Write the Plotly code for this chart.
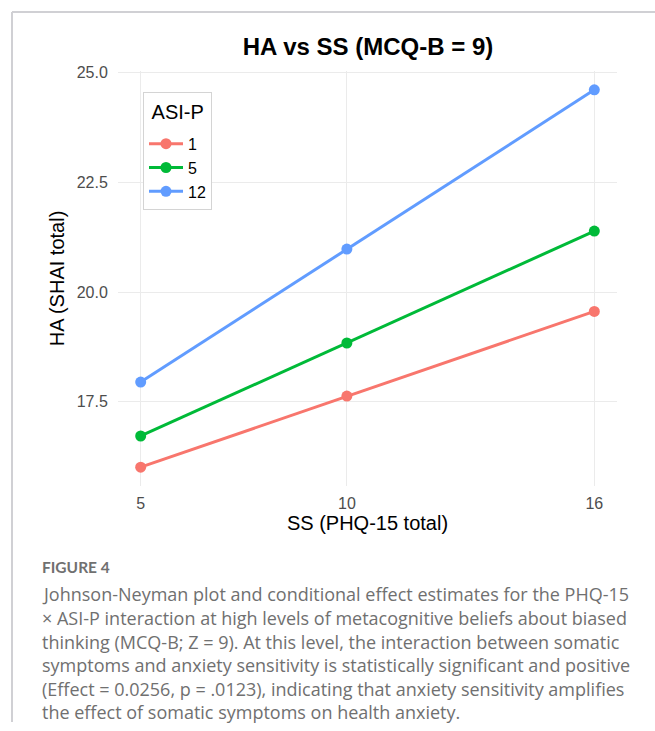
import plotly.graph_objects as go

# ---- data ----
ss_values = [5, 10, 16]
asi_levels = ["1", "5", "12"]
ha_asi1 = [16.01, 17.63, 19.56]
ha_asi5 = [16.72, 18.84, 21.39]
ha_asi12 = [17.95, 20.98, 24.61]
series_colors = ["#F8766D", "#00BA38", "#619CFF"]

x_ticks = [5, 10, 16]
y_ticks = [17.5, 20.0, 22.5, 25.0]
y_tick_labels = ["17.5", "20.0", "22.5", "25.0"]

chart_title = "HA vs SS (MCQ-B = 9)"
x_title = "SS (PHQ-15 total)"
y_title = "HA (SHAI total)"
legend_title = "ASI-P"

caption_head = "FIGURE 4"
caption_lines = [
    "Johnson-Neyman plot and conditional effect estimates for the PHQ-15",
    "\u00d7 ASI-P interaction at high levels of metacognitive beliefs about biased",
    "thinking (MCQ-B; Z = 9). At this level, the interaction between somatic",
    "symptoms and anxiety sensitivity is statistically significant and positive",
    "(Effect = 0.0256, p = .0123), indicating that anxiety sensitivity amplifies",
    "the effect of somatic symptoms on health anxiety.",
]

# ---- layout geometry (pixels) ----
W, H = 655, 731
L, R, T, B = 118, 38, 71, 245
PW = W - L - R
PH = H - T - B


def px_x(px):
    return (px - L) / PW


def px_y(py):
    return (H - B - py) / PH


fig = go.Figure()
for name, ys, col in zip(asi_levels, [ha_asi1, ha_asi5, ha_asi12], series_colors):
    fig.add_trace(go.Scatter(
        x=ss_values, y=ys, name=name, mode="lines+markers",
        line=dict(color=col, width=3),
        marker=dict(color=col, size=11),
        legendgroup=name,
    ))

font_main = "Liberation Sans, Arial, sans-serif"

fig.update_layout(
    width=W, height=H, autosize=False,
    margin=dict(l=L, r=R, t=T, b=B, pad=0),
    paper_bgcolor="white", plot_bgcolor="white",
    font=dict(family=font_main, color="#000000"),
    title=dict(text="<b>" + chart_title + "</b>", x=px_x(368), xref="paper",
               y=1 - 47 / H, yref="container", yanchor="middle", xanchor="center",
               font=dict(size=24, color="#000000", family=font_main)),
    showlegend=True,
    legend=dict(
        x=px_x(143), y=px_y(92), xanchor="left", yanchor="top",
        bordercolor="#d4d4d4", borderwidth=1, bgcolor="white",
        title=dict(text="<span style='font-size:20px;baseline-shift:8px'>&nbsp;" + legend_title + "</span>",
                   font=dict(size=26, color="#000000")),
        font=dict(size=16, color="#000000"),
        traceorder="grouped", tracegroupgap=0,
        itemwidth=34,
    ),
    xaxis=dict(
        range=[4.45, 16.55], tickmode="array", tickvals=x_ticks,
        ticktext=[str(v) for v in x_ticks],
        showgrid=True, gridcolor="#ebebeb", gridwidth=1.2,
        zeroline=False, showline=False,
        ticks="outside", ticklen=3, tickcolor="rgba(0,0,0,0)",
        tickfont=dict(size=16, color="#4d4d4d"),
        title=dict(text=x_title, font=dict(size=20, color="#000000"), standoff=2),
    ),
    yaxis=dict(
        range=[15.58, 25.04], tickmode="array", tickvals=y_ticks,
        ticktext=y_tick_labels,
        showgrid=True, gridcolor="#ebebeb", gridwidth=1.2,
        zeroline=False, showline=False,
        ticks="outside", ticklen=6, tickcolor="rgba(0,0,0,0)",
        tickfont=dict(size=16, color="#4d4d4d"),
        title=dict(text=y_title, font=dict(size=20, color="#000000"), standoff=6),
    ),
)

# border of the figure frame (top and left edges)
fig.add_shape(type="line", xref="paper", yref="paper",
              x0=px_x(12), x1=px_x(660), y0=px_y(12), y1=px_y(12),
              line=dict(color="#d0d0d4", width=2))
fig.add_shape(type="line", xref="paper", yref="paper",
              x0=px_x(12), x1=px_x(12), y0=px_y(12), y1=px_y(722),
              line=dict(color="#d0d0d4", width=2))

cap_font = "Open Sans, Lato, sans-serif"
fig.add_annotation(text="<b>" + caption_head + "</b>", xref="paper", yref="paper",
                   x=px_x(40), y=px_y(567), xanchor="left", yanchor="middle",
                   showarrow=False, font=dict(size=15.5, color="#707070", family="Lato, sans-serif"))
line_ys = [594, 618, 642, 665, 689, 712]
for txt, ly in zip(caption_lines, line_ys):
    fig.add_annotation(text=txt, xref="paper", yref="paper",
                       x=px_x(40), y=px_y(ly), xanchor="left", yanchor="middle",
                       showarrow=False, font=dict(size=18, color="#707070", family=cap_font))

fig.write_html("out.html")
